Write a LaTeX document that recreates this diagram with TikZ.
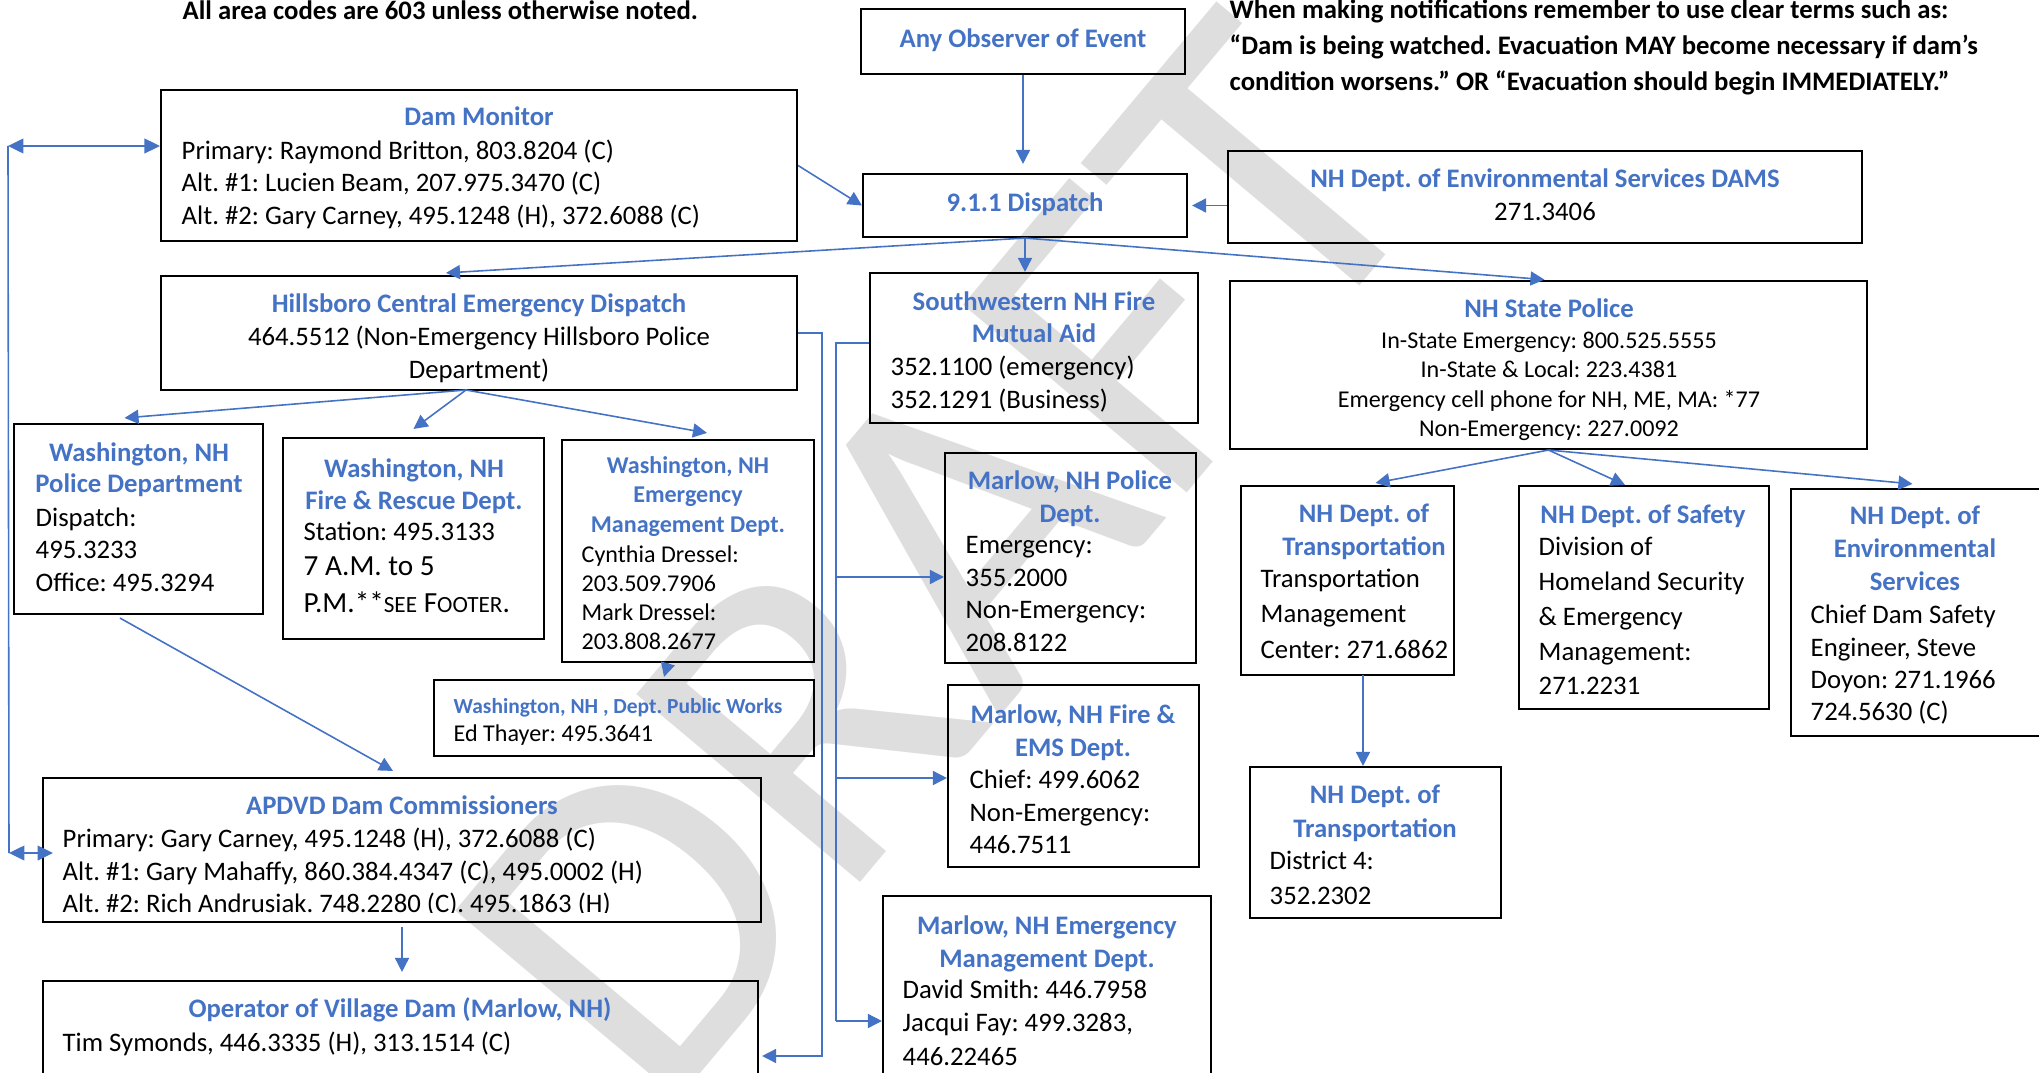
\documentclass[tikz,border=0pt]{standalone}
\usepackage{fontspec}
\setmainfont{Carlito}
\usetikzlibrary{arrows.meta,%
                fit}
\definecolor{hdblue}{HTML}{4472C4}
\definecolor{wmgray}{gray}{0.87}
\newcommand{\smc}[1]{{\fontsize{6.6}{6.6}\selectfont #1}}
\frenchspacing

\tikzset{
  box/.style={draw, line width=0.6pt, inner sep=0pt},
  ttl/.style={text=hdblue, font=\bfseries\fontsize{7.6}{#1}\selectfont, align=center,
              anchor=north, inner sep=0pt, execute at begin node={\rule{0pt}{0.79em}}},
  ttl/.default=9.25,
  body/.style={font=\fontsize{7.6}{#1}\selectfont, align=left,
               anchor=north west, inner sep=0pt, execute at begin node={\rule{0pt}{0.79em}}},
  body/.default=9.25,
  note/.style={font=\bfseries\fontsize{7.6}{10.2}\selectfont, align=left,
               anchor=north west, inner sep=0pt, execute at begin node={\rule{0pt}{0.79em}}},
  wmark/.style={text=wmgray, font=\fontsize{129.5}{129.5}\selectfont, inner sep=0pt},
  con/.style={draw=hdblue, line width=0.45pt},
  arr/.style={con, -{Triangle[length=4pt, width=4pt]}},
  darr/.style={con, {Triangle[length=4.4pt, width=4.2pt]}-{Triangle[length=4.4pt, width=4.2pt]}}
}

\begin{document}
\begin{tikzpicture}[x=0.01cm, y=-0.01cm]
  \path[use as bounding box, clip] (0,0) rectangle (2039,1073);
  \node[wmark, rotate=50] (draft) at (940,560) {DRAFT};

  % notes at the top
  \node[note] (areanote) at (182,-2) {All area codes are 603 unless otherwise noted.};
  \node[note] (termnote) at (1229,-1) {When making notifications remember to use clear terms such as:\\
    “Dam is being watched. Evacuation MAY become necessary if dam’s\\
    condition worsens.” OR “Evacuation should begin IMMEDIATELY.”};

  % boxes
  \node[box, fit={(861,9) (1185,74)}] (obs) {};
  \node[ttl] (obs-t) at (1023,25.5) {Any Observer of Event};

  \node[box, fit={(161,90) (797,241)}] (dammon) {};
  \node[ttl] (dammon-t) at (479,103.5) {Dam Monitor};
  \node[body] (dammon-b) at (181,139) {Primary: Raymond Britton, 803.8204 (C)\\Alt. \#1: Lucien Beam, 207.975.3470 (C)\\Alt. \#2: Gary Carney, 495.1248 (H), 372.6088 (C)};

  \node[box, fit={(863,174) (1187,237)}] (disp) {};
  \node[ttl] (disp-t) at (1025,189.5) {9.1.1 Dispatch};

  \node[box, fit={(1228,151) (1862,243)}] (des) {};
  \node[ttl=9.2] (des-t) at (1545,168.5) {NH Dept. of Environmental Services DAMS\\\textcolor{black}{\mdseries 271.3406}};

  \node[box, fit={(161,276) (797,390)}] (hill) {};
  \node[ttl] (hill-t) at (479,290.5) {Hillsboro Central Emergency Dispatch};
  \node[body=9.5, anchor=north, align=center] (hill-b) at (479,325) {464.5512 (Non-Emergency Hillsboro Police\\Department)};

  \node[box, fit={(870,273) (1198,423)}] (swfire) {};
  \node[ttl=9.2] (swfire-t) at (1034,291) {Southwestern NH Fire\\Mutual Aid};
  \node[body=9.3] (swfire-b) at (890,355.5) {352.1100 (emergency)\\352.1291 (Business)};

  \node[box, fit={(1230,281) (1867,449)}] (nhsp) {};
  \node[ttl] (nhsp-t) at (1549,295.5) {NH State Police};
  \node[body, anchor=north, align=center, font=\fontsize{6.85}{8.4}\selectfont] (nhsp-b) at (1549,331)
    {In-State Emergency: 800.525.5555\\In-State \& Local: 223.4381\\Emergency cell phone for NH, ME, MA: *77\\Non-Emergency: 227.0092};

  \node[box, fit={(14,424) (263,614)}] (wpd) {};
  \node[ttl=8.9] (wpd-t) at (139,442) {Washington, NH\\Police Department};
  \node[body] (wpd-b) at (35,507) {Dispatch:\\495.3233\\Office: 495.3294};

  \node[box, fit={(283,438) (544,639)}] (wfire) {};
  \node[ttl=9.1] (wfire-t) at (414,458) {Washington, NH\\Fire \& Rescue Dept.};
  \node[body] (wfire-b) at (303,519) {Station: 495.3133};
  \node[body, font=\fontsize{8.3}{10.3}\selectfont] (wfire-h) at (303,556.5) {7 A.M. to 5\\P.M.**\smc{SEE} F\smc{OOTER}.};

  \node[box, fit={(562,440) (814,662)}] (wem) {};
  \node[ttl, font=\bfseries\fontsize{6.85}{8.4}\selectfont] (wem-t) at (688,455.6) {Washington, NH\\Emergency\\Management Dept.};
  \node[body, font=\fontsize{6.85}{8.3}\selectfont] (wem-b) at (581,544.6) {Cynthia Dressel:\\203.509.7906\\Mark Dressel:\\203.808.2677};

  \node[box, fit={(434,680) (814,756)}] (pw) {};
  \node[ttl, anchor=north west, font=\bfseries\fontsize{6.1}{7.5}\selectfont] (pw-t) at (453,696) {Washington, NH , Dept. Public Works};
  \node[body, font=\fontsize{6.85}{8.3}\selectfont] (pw-b) at (453,721.6) {Ed Thayer: 495.3641};

  \node[box, fit={(945,453) (1196,663)}] (mpol) {};
  \node[ttl=9.4] (mpol-t) at (1070,470) {Marlow, NH Police\\Dept.};
  \node[body=9.3] (mpol-b) at (965,535.5) {Emergency:\\355.2000\\Non-Emergency:\\208.8122};

  \node[box, fit={(948,685) (1199,867)}] (mfire) {};
  \node[ttl] (mfire-t) at (1073,704.5) {Marlow, NH Fire \&\\EMS Dept.};
  \node[body] (mfire-b) at (969,769.5) {Chief: 499.6062\\Non-Emergency:\\446.7511};

  \node[box, fit={(883,896) (1211,1090)}] (mem) {};
  \node[ttl] (mem-t) at (1047,915.5) {Marlow, NH Emergency\\Management Dept.};
  \node[body=9.5] (mem-b) at (902,979) {David Smith: 446.7958\\Jacqui Fay: 499.3283,\\446.22465};

  \node[box, fit={(1241,486) (1454,675)}] (dot) {};
  \node[ttl=9.4] (dot-t) at (1364,503) {NH Dept. of\\Transportation};
  \node[body=10.1] (dot-b) at (1260,568) {Transportation\\Management\\Center: 271.6862};

  \node[box, fit={(1519,486) (1769,709)}] (safe) {};
  \node[ttl] (safe-t) at (1643,501.5) {NH Dept. of Safety};
  \node[body=9.9] (safe-b) at (1538,536.5) {Division of\\Homeland Security\\\& Emergency\\Management:\\271.2231};

  \node[box, fit={(1791,489) (2050,736)}] (env) {};
  \node[ttl=9.4] (env-t) at (1915,505) {NH Dept. of\\Environmental\\Services};
  \node[body=9.2] (env-b) at (1810,604.5) {Chief Dam Safety\\Engineer, Steve\\Doyon: 271.1966\\724.5630 (C)};

  \node[box, fit={(1250,767) (1501,918)}] (dot4) {};
  \node[ttl=9.7] (dot4-t) at (1375,784) {NH Dept. of\\Transportation};
  \node[body=10] (dot4-b) at (1269,850.5) {District 4:\\352.2302};

  \node[box, fit={(43,778) (761,922)}] (apdvd) {};
  \node[ttl] (apdvd-t) at (402,792.5) {APDVD Dam Commissioners};
  \begin{scope}
    \clip (43,778) rectangle (761,912);
    \node[body=9.2] (apdvd-b) at (62,827.5) {Primary: Gary Carney, 495.1248 (H), 372.6088 (C)\\Alt. \#1: Gary Mahaffy, 860.384.4347 (C), 495.0002 (H)\\Alt. \#2: Rich Andrusiak. 748.2280 (C). 495.1863 (H)};
  \end{scope}

  \node[box, fit={(43,981) (758,1090)}] (op) {};
  \node[ttl] (op-t) at (400,995.5) {Operator of Village Dam (Marlow, NH)};
  \node[body] (op-b) at (62,1029.5) {Tim Symonds, 446.3335 (H), 313.1514 (C)};

  % connector points
  \coordinate (hill-out) at (466,390);
  \coordinate (dot-out) at (1363,675);
  \coordinate (lt) at (8,146);
  \coordinate (lb) at (9,853);
  \coordinate (lb-in) at (53,853);
  \coordinate (hr) at (822,1056);
  \coordinate (sl) at (836,343);
  \coordinate (sl1) at (836,577);
  \coordinate (sl2) at (836,778);
  \coordinate (sl3) at (836,1021);

  % connectors
  \draw[arr, shorten >=0.09cm] (obs.south) -- (obs.south |- disp.north);
  \draw[arr] (dammon.east) -- (disp.west);
  \draw[arr, shorten >=0.04cm] (des.west |- disp.east) -- (disp.east);
  \draw[arr] (disp.south) -- ([xshift=-0.33cm, yshift=0.02cm]hill.north);
  \draw[arr] (disp.south) -- (disp.south |- swfire.north);
  \draw[arr, shorten >=0.04cm] (disp.south) -- (nhsp.north);
  \draw[arr] (hill-out) -- ([xshift=-0.14cm, yshift=0.05cm]wpd.north);
  \draw[arr] (hill-out) -- ([yshift=0.08cm]wfire.north);
  \draw[arr] (hill-out) -- ([xshift=0.19cm, yshift=0.06cm]wem.north);
  \draw[arr] ([xshift=-0.185cm, yshift=-0.03cm]wpd.south) -- ([xshift=-0.09cm, yshift=0.06cm]apdvd.north);
  \draw[arr] ([xshift=-0.2cm]wem.south) -- ([xshift=0.4cm, yshift=0.02cm]pw.north);
  \draw[arr] (nhsp.south) -- ([xshift=0.28cm, yshift=0.02cm]dot.north);
  \draw[arr] (nhsp.south) -- ([xshift=-0.19cm]safe.north);
  \draw[arr] (nhsp.south) -- ([xshift=-0.08cm, yshift=0.04cm]env.north);
  \draw[arr] (dot-out) -- (dot-out |- dot4.north);
  \draw[arr, shorten <=0.04cm, shorten >=0.08cm] (apdvd.south) -- (apdvd.south |- op.north);
  \draw[darr] (lt) -- (lt -| dammon.west);
  \draw[con] (lt) -- (lb);
  \draw[darr] (lb) -- (lb-in);
  \draw[arr, shorten >=0.03cm] (hill.east) -| (hr) -- (hr -| op.east);
  \draw[con] (swfire.west |- sl) -- (sl) -- (sl3);
  \foreach \from/\to in {sl1/mpol,sl2/mfire,sl3/mem}
    \draw[arr] (\from) -- (\from -| \to.west);
\end{tikzpicture}
\end{document}
